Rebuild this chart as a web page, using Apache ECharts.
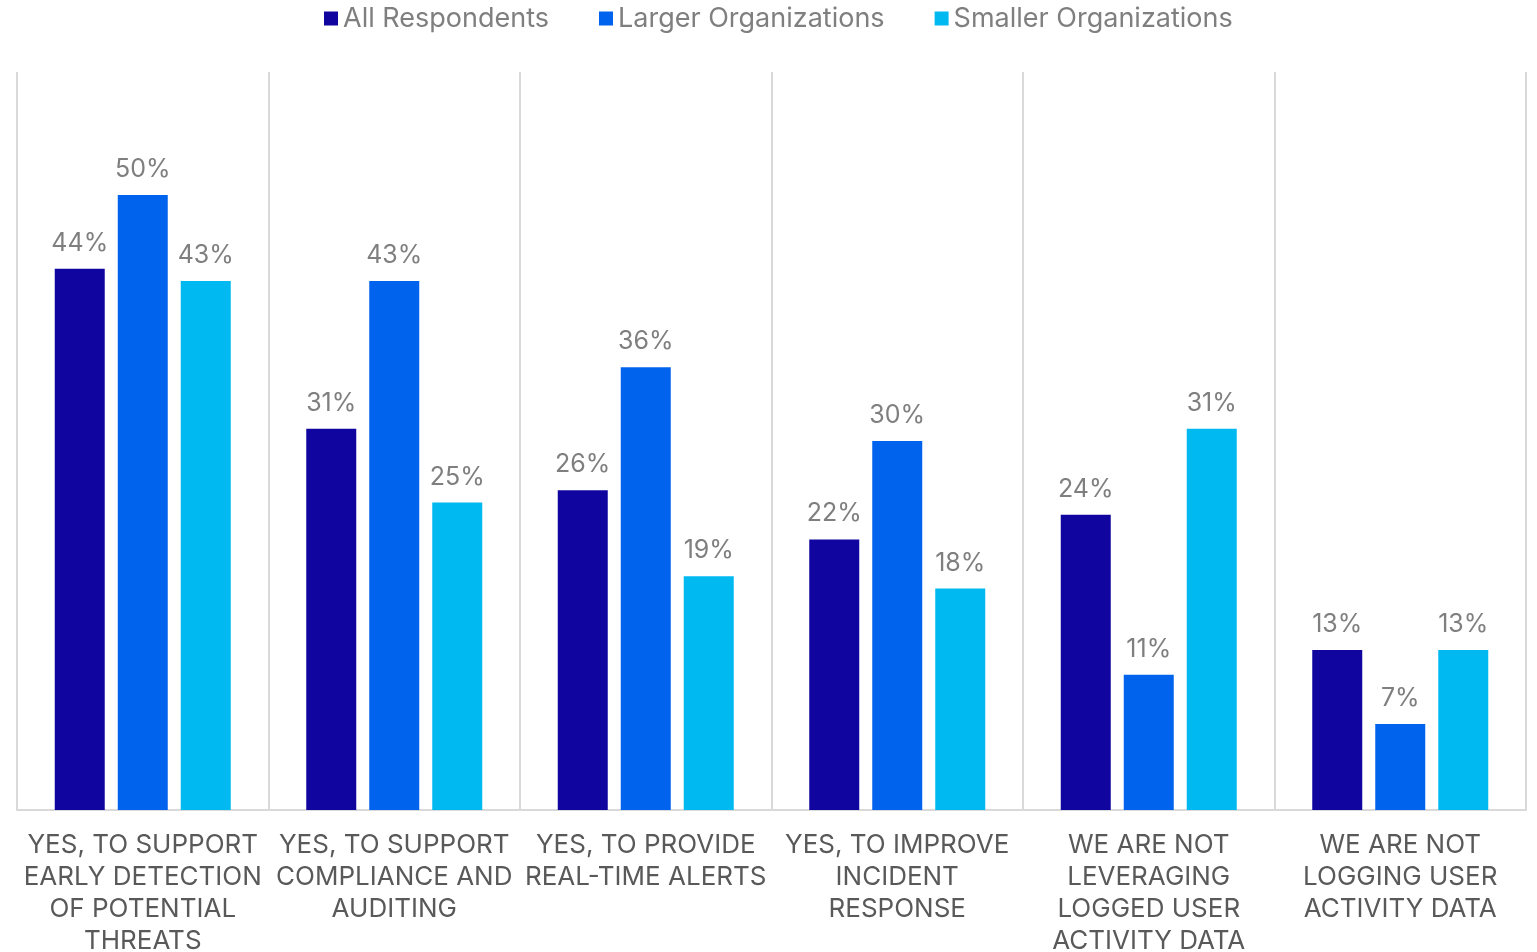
<!DOCTYPE html>
<html>
<head>
<meta charset="utf-8">
<script src="https://cdn.jsdelivr.net/npm/echarts@6/dist/echarts.min.js"></script>
<style>
  html, body { margin: 0; padding: 0; background: #fff; overflow: hidden; }
  #chart { width: 1537px; height: 952px; }
</style>
</head>
<body>
<div id="chart"></div>
<script>
// Survey answers, one category per group of bars
const categories = [
  'YES, TO SUPPORT\nEARLY DETECTION\nOF POTENTIAL\nTHREATS',
  'YES, TO SUPPORT\nCOMPLIANCE AND\nAUDITING',
  'YES, TO PROVIDE\nREAL-TIME ALERTS',
  'YES, TO IMPROVE\nINCIDENT\nRESPONSE',
  'WE ARE NOT\nLEVERAGING\nLOGGED USER\nACTIVITY DATA',
  'WE ARE NOT\nLOGGING USER\nACTIVITY DATA'
];
const seriesNames = ['All Respondents', 'Larger Organizations', 'Smaller Organizations'];
const allRespondents = [44, 31, 26, 22, 24, 13];
const largerOrgs = [50, 43, 36, 30, 11, 7];
const smallerOrgs = [43, 25, 19, 18, 31, 13];
const seriesColors = ['#10069f', '#0063ee', '#00b9f0'];

const FONT = 'Inter, "Noto Sans", sans-serif';

function barSeries(name, data, color) {
  return {
    name: name,
    type: 'bar',
    data: data,
    barWidth: 50,
    barGap: '26%',
    itemStyle: { color: color },
    label: {
      show: true,
      position: 'top',
      distance: 13,
      formatter: '{c}%',
      color: '#7f7f7f',
      fontFamily: FONT,
      fontSize: 25
    }
  };
}

const chart = echarts.init(document.getElementById('chart'));
chart.setOption({
  animation: false,
  backgroundColor: '#ffffff',
  legend: {
    top: 0,
    left: 319,
    itemWidth: 14,
    itemHeight: 14,
    itemGap: 50,
    icon: 'rect',
    textStyle: { color: '#7f7f7f', fontFamily: FONT, fontSize: 27 },
    data: seriesNames
  },
  grid: {
    left: 17,
    right: 11,
    top: 72,
    bottom: 142,
    containLabel: false,
    // the wrapped category labels run past the bottom edge; keep the plot size fixed
    outerBoundsMode: 'none'
  },
  xAxis: {
    type: 'category',
    data: categories,
    axisLine: { show: true, lineStyle: { color: '#d9d9d9', width: 2 } },
    axisTick: { show: false },
    splitLine: { show: true, lineStyle: { color: '#d9d9d9', width: 2 } },
    axisLabel: {
      interval: 0,
      margin: 19,
      color: '#595959',
      fontFamily: FONT,
      fontSize: 26,
      lineHeight: 32,
      align: 'center'
    }
  },
  yAxis: {
    type: 'value',
    min: 0,
    max: 60,
    show: false,
    splitLine: { show: false }
  },
  series: [
    barSeries(seriesNames[0], allRespondents, seriesColors[0]),
    barSeries(seriesNames[1], largerOrgs, seriesColors[1]),
    barSeries(seriesNames[2], smallerOrgs, seriesColors[2])
  ]
});
</script>
</body>
</html>
